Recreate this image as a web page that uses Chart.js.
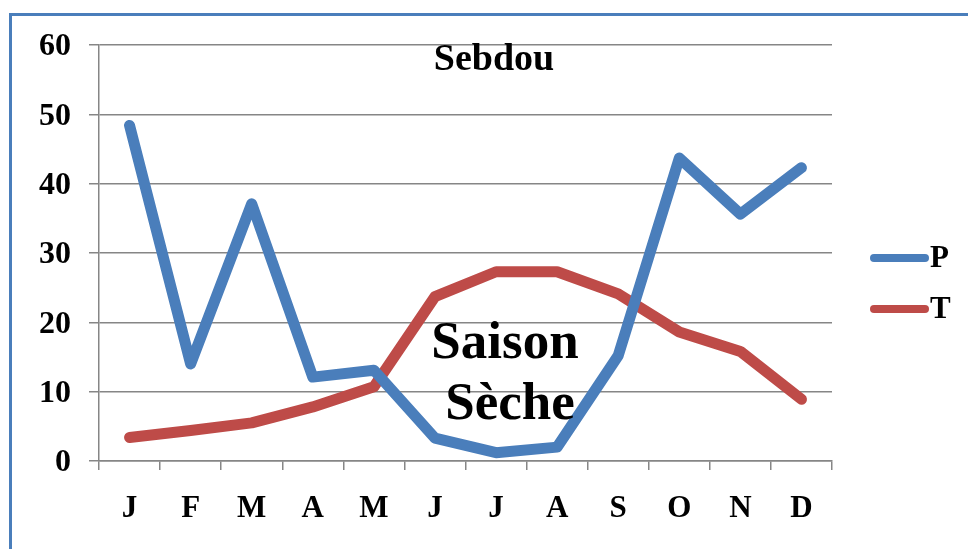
<!DOCTYPE html>
<html>
<head>
<meta charset="utf-8">
<script src="https://cdn.jsdelivr.net/npm/chart.js@4.4.1/dist/chart.umd.min.js"></script>
<style>
  html, body { margin: 0; padding: 0; background: #fff; overflow: hidden; }
  #wrap { position: relative; width: 968px; height: 549px; }
  #frame { position: absolute; left: 9px; top: 13px; width: 1000px; height: 600px; border: 3px solid #4a7ebb; box-sizing: border-box; }
  canvas { position: absolute; left: 0; top: 0; }
</style>
</head>
<body>
<div id="wrap">
  <div id="frame"></div>
  <canvas id="c" width="968" height="549"></canvas>
</div>
<script>
const months = ["J", "F", "M", "A", "M", "J", "J", "A", "S", "O", "N", "D"];
const precipitation = [48.4, 14.0, 37.1, 12.1, 13.1, 3.3, 1.2, 2.0, 15.2, 43.7, 35.6, 42.3];
const temperature = [3.4, 4.4, 5.5, 7.8, 10.7, 23.7, 27.3, 27.3, 24.1, 18.6, 15.8, 8.9];
const seriesNames = ["P", "T"];
const chartTitle = "Sebdou";
const annotationLines = ["Saison", "Sèche"];

const FONT = "'Liberation Serif', 'Times New Roman', serif";
const BLUE = "#4a7ebb";
const RED = "#be4b48";
const GRID = "#868686";

const overlay = {
  id: "overlay",
  afterDraw(chart) {
    const ctx = chart.ctx;
    ctx.save();
    ctx.fillStyle = "#000";
    ctx.textAlign = "center";
    ctx.textBaseline = "middle";
    ctx.font = "bold 38px " + FONT;
    ctx.fillText(chartTitle, 494, 60);
    ctx.font = "bold 53px " + FONT;
    ctx.fillText(annotationLines[0], 505, 344);
    ctx.fillText(annotationLines[1], 510, 405);
    const items = [[seriesNames[0], BLUE, 258], [seriesNames[1], RED, 309]];
    items.forEach(([name, col, y]) => {
      ctx.strokeStyle = col;
      ctx.lineWidth = 8;
      ctx.lineCap = "round";
      ctx.beginPath();
      ctx.moveTo(874, y);
      ctx.lineTo(925, y);
      ctx.stroke();
      ctx.fillStyle = "#000";
      ctx.textAlign = "left";
      ctx.font = "bold 31px " + FONT;
      ctx.fillText(name, 930, y + 1);
    });
    ctx.restore();
  }
};

new Chart(document.getElementById("c"), {
  type: "line",
  data: {
    labels: months,
    datasets: [
      { label: seriesNames[0], data: precipitation, borderColor: BLUE, backgroundColor: BLUE,
        borderWidth: 11, borderCapStyle: "round", borderJoinStyle: "round", pointRadius: 0, tension: 0 },
      { label: seriesNames[1], data: temperature, borderColor: RED, backgroundColor: RED,
        borderWidth: 11, borderCapStyle: "round", borderJoinStyle: "round", pointRadius: 0, tension: 0 }
    ]
  },
  options: {
    responsive: false,
    animation: false,
    devicePixelRatio: 1,
    layout: { padding: { left: 0, top: 45, right: 136, bottom: 0 } },
    plugins: { legend: { display: false }, title: { display: false }, tooltip: { enabled: false } },
    scales: {
      x: {
        offset: true,
        grid: { display: true, drawOnChartArea: false, drawTicks: true, tickLength: 9, color: GRID, lineWidth: 1.5, offset: true },
        border: { display: true, color: GRID, width: 1.5 },
        ticks: { color: "#000", font: { family: FONT, size: 31, weight: "bold" }, padding: 20, maxRotation: 0, autoSkip: false },
        afterFit(s) { s.height = 88; }
      },
      y: {
        min: 0, max: 60,
        ticks: { stepSize: 10, color: "#000", font: { family: FONT, size: 32, weight: "bold" }, padding: 18, labelOffset: 2 },
        grid: { color: GRID, lineWidth: 1.5, drawTicks: true, tickLength: 10 },
        border: { display: true, color: GRID, width: 1.5 },
        afterFit(s) { s.width = 99; }
      }
    }
  },
  plugins: [overlay]
});
</script>
</body>
</html>
